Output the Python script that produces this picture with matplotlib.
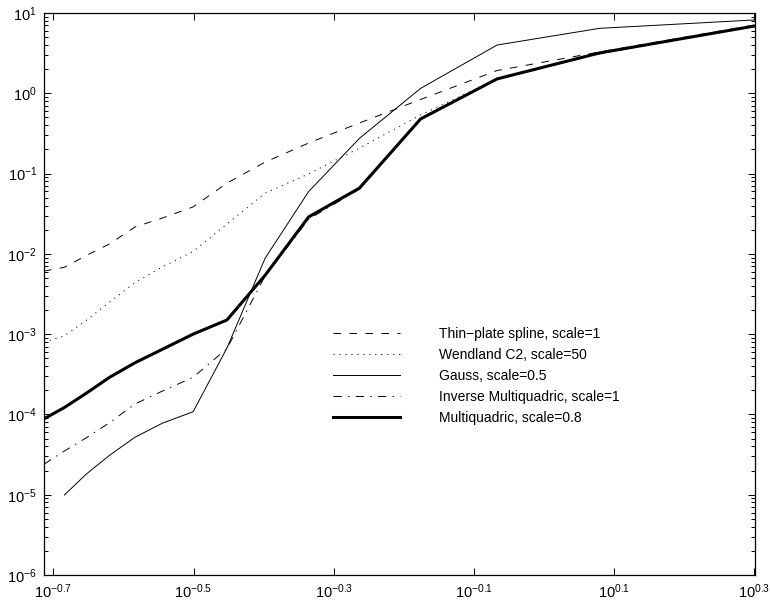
import numpy as np
import matplotlib
matplotlib.use("Agg")
import matplotlib.pyplot as plt
from matplotlib.ticker import FixedLocator, FixedFormatter, LogLocator, NullFormatter

plt.rcParams['font.family'] = ['Liberation Sans', 'DejaVu Sans']
plt.rcParams['mathtext.fontset'] = 'custom'
plt.rcParams['mathtext.rm'] = 'Liberation Sans'
plt.rcParams['mathtext.it'] = 'Liberation Sans:italic'
plt.rcParams['mathtext.bf'] = 'Liberation Sans:bold'
plt.rcParams['lines.scale_dashes'] = False

# fill distances (x) and errors for each kernel
h = [0.1935, 0.2069, 0.2222, 0.24, 0.2609, 0.2857, 0.3158, 0.3529,
     0.4, 0.4615, 0.5455, 0.6667, 0.8571, 1.2, 2.0]

thin_plate = [6.1e-3, 6.8e-3, 9.5e-3, 1.33e-2, 2.16e-2, 2.8e-2, 3.84e-2, 7.6e-2,
              0.139, 0.24, 0.427, 0.837, 1.92, 3.27, 7.1]
wendland = [8.0e-4, 9.5e-4, 1.48e-3, 2.5e-3, 4.4e-3, 6.9e-3, 1.07e-2, 2.35e-2,
            5.7e-2, 9.9e-2, 0.208, 0.537, 1.51, 3.18, 7.1]
gauss = [np.nan, 9.9e-6, 1.8e-5, 3.1e-5, 5.2e-5, 7.8e-5, 1.08e-4, 6.7e-4,
         8.8e-3, 5.96e-2, 0.275, 1.15, 3.99, 6.44, 8.2]
inv_mq = [2.4e-5, 3.5e-5, 5.1e-5, 7.9e-5, 1.35e-4, 1.96e-4, 2.9e-4, 6.6e-4,
          5.3e-3, 2.7e-2, 6.4e-2, 0.47, 1.5, 3.1, 6.9]
mq = [8.8e-5, 1.22e-4, 1.83e-4, 2.9e-4, 4.4e-4, 6.5e-4, 1.0e-3, 1.5e-3,
      5.4e-3, 2.88e-2, 6.6e-2, 0.479, 1.51, 3.18, 6.9]

labels = ["Thin\u2212plate spline, scale=1", "Wendland C2, scale=50",
          "Gauss, scale=0.5", "Inverse Multiquadric, scale=1",
          "Multiquadric, scale=0.8"]

xtick_exp = ["-0.7", "-0.5", "-0.3", "-0.1", "0.1", "0.3"]
ytick_exp = ["-6", "-5", "-4", "-3", "-2", "-1", "0", "1"]


def main():
    fig = plt.figure(figsize=(7.7, 6.06), dpi=100)
    ax = fig.add_axes([44 / 770, 1 - 575 / 606, 711 / 770, 562 / 606])

    ax.plot(h, thin_plate, color='k', lw=0.7, dashes=(5.5, 6.0), label=labels[0])
    ax.plot(h, wendland, color='k', lw=0.7, dashes=(0.8, 3.5), label=labels[1])
    ax.plot(h, gauss, color='k', lw=0.7, label=labels[2])
    ax.plot(h, inv_mq, color='k', lw=0.7, dashes=(6.0, 4.5, 1.0, 4.5), label=labels[3])
    ax.plot(h, mq, color='k', lw=2.2, label=labels[4])

    ax.set_xscale('log')
    ax.set_yscale('log')
    ax.set_xlim(h[0], h[-1])
    ax.set_ylim(1e-6, 1e1)

    xt = [10 ** float(e) for e in xtick_exp]
    ax.xaxis.set_major_locator(FixedLocator(xt))
    ax.xaxis.set_major_formatter(FixedFormatter(
        [r"$10^{%s}$" % e.replace('-', '\u2212') for e in xtick_exp]))
    ax.xaxis.set_minor_locator(FixedLocator([]))

    yt = [10 ** float(e) for e in ytick_exp]
    ax.yaxis.set_major_locator(FixedLocator(yt))
    ax.yaxis.set_major_formatter(FixedFormatter(
        [r"$10^{%s}$" % e.replace('-', '\u2212') for e in ytick_exp]))
    ax.yaxis.set_minor_locator(LogLocator(base=10, subs=np.arange(2, 10)))
    ax.yaxis.set_minor_formatter(NullFormatter())

    ax.tick_params(which='both', direction='in', top=True, right=True,
                   labelsize=10.5, width=0.7)
    ax.tick_params(which='major', length=5, pad=5)
    ax.tick_params(which='minor', length=3)
    for s in ax.spines.values():
        s.set_linewidth(0.9)

    ax.legend(loc='upper left', bbox_to_anchor=(333 / 770, 1 - 327 / 606),
              bbox_transform=fig.transFigure, frameon=False, fontsize=10,
              handlelength=4.8, handletextpad=2.8, labelspacing=0.5,
              borderpad=0, borderaxespad=0)

    fig.savefig("out.png", dpi=100)


if __name__ == "__main__":
    main()
